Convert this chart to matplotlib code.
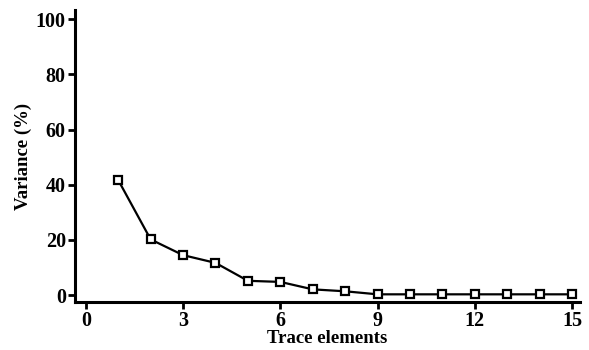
import numpy as np
import matplotlib
matplotlib.use("Agg")
import matplotlib.pyplot as plt

# data
elements = [1, 2, 3, 4, 5, 6, 7, 8, 9, 10, 11, 12, 13, 14, 15]
variance = [41.7, 20.2, 14.5, 11.7, 5.2, 4.8, 2.1, 1.4, 0.3, 0.3, 0.3, 0.3, 0.3, 0.3, 0.3]
x_ticks = [0, 3, 6, 9, 12, 15]
y_ticks = [0, 20, 40, 60, 80, 100]

plt.rcParams["font.family"] = ["Liberation Serif", "DejaVu Serif"]
plt.rcParams["font.weight"] = "bold"

fig = plt.figure(figsize=(5.89, 3.5), dpi=100)
ax = fig.add_axes([0.127, 0.137, 0.858, 0.834])

ax.plot(elements, variance, color="black", linewidth=1.6,
        marker="s", markersize=6.2, markerfacecolor="white",
        markeredgecolor="black", markeredgewidth=1.6, clip_on=False, zorder=3)

ax.set_xlim(-0.34, 15.25)
ax.set_ylim(-2.5, 103.3)
ax.set_xticks(x_ticks)
ax.set_yticks(y_ticks)

for side in ["top", "right"]:
    ax.spines[side].set_visible(False)
for side in ["left", "bottom"]:
    ax.spines[side].set_linewidth(2.2)

ax.tick_params(axis="both", direction="out", length=5, width=2,
               labelsize=14.5, pad=1.5)

ax.set_xlabel("Trace elements", fontsize=13.5, fontweight="bold", labelpad=-1)
ax.set_ylabel("Variance (%)", fontsize=13.5, fontweight="bold", labelpad=3)

fig.savefig("out.png", dpi=100)
